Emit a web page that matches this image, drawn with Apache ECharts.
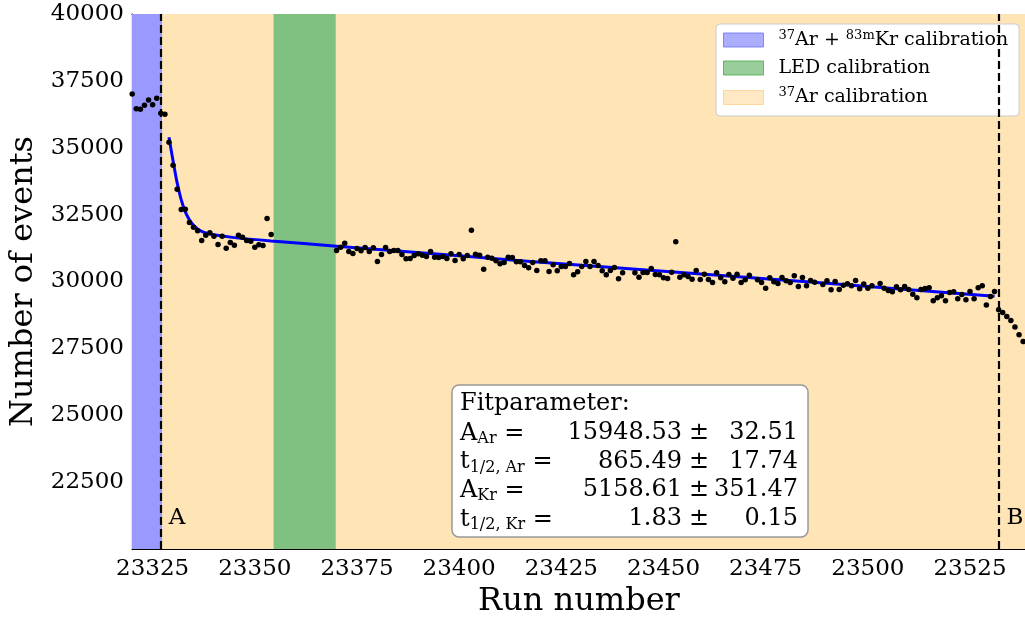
<!DOCTYPE html>
<html>
<head>
<meta charset="utf-8">
<title>Run number vs events</title>
<script src="https://cdn.jsdelivr.net/npm/echarts@6/dist/echarts.min.js"></script>
<style>
  html, body { margin: 0; padding: 0; background: #fff; }
  #chart { width: 1025px; height: 617px; }
</style>
</head>
<body>
<div id="chart"></div>
<script>
// measured events per run
const runNumbers = [
  23320, 23321, 23322, 23323, 23324, 23325, 23326, 23327, 23328, 23329,
  23330, 23331, 23332, 23333, 23334, 23335, 23336, 23337, 23338, 23339,
  23340, 23341, 23342, 23343, 23344, 23345, 23346, 23347, 23348, 23349,
  23350, 23351, 23352, 23353, 23354,
  23370, 23371, 23372, 23373, 23374, 23375, 23376, 23377, 23378, 23379,
  23380, 23381, 23382, 23383, 23384, 23385, 23386, 23387, 23388, 23389,
  23390, 23391, 23392, 23393, 23394, 23395, 23396, 23397, 23398, 23399,
  23400, 23401, 23402, 23403, 23404, 23405, 23406, 23407, 23408, 23409,
  23410, 23411, 23412, 23413, 23414, 23415, 23416, 23417, 23418, 23419,
  23420, 23421, 23422, 23423, 23424, 23425, 23426, 23427, 23428, 23429,
  23430, 23431, 23432, 23433, 23434, 23435, 23436, 23437, 23438, 23439,
  23440, 23443, 23444, 23445, 23446, 23447, 23448, 23449,
  23450, 23451, 23452, 23453, 23454, 23455, 23456, 23457, 23458, 23459,
  23460, 23461, 23462, 23463, 23464, 23465, 23466, 23467, 23468, 23469,
  23470, 23471, 23473, 23474, 23475, 23476, 23477, 23478, 23479,
  23480, 23481, 23482, 23483, 23484, 23485, 23486, 23487, 23489,
  23490, 23491, 23492, 23493, 23494, 23495, 23496, 23497, 23498, 23499,
  23500, 23501, 23503, 23504, 23505, 23506, 23507, 23508, 23509,
  23510, 23511, 23512, 23513, 23514, 23515, 23516, 23517, 23518, 23519,
  23520, 23521, 23522, 23523, 23524, 23525, 23526, 23527, 23528, 23529,
  23530, 23531, 23532, 23533, 23534, 23535, 23536, 23537, 23538
];
const eventCounts = [
  37011, 36462, 36440, 36589, 36787, 36611, 36851, 36290, 36253, 35207,
  34347, 33451, 32689, 32704, 32203, 32031, 31893, 31530, 31732, 31818,
  31695, 31381, 31695, 31247, 31456, 31359, 31732, 31658, 31530, 31508,
  31284, 31370, 31344, 32352, 31755,
  31157, 31284, 31433, 31119, 31045, 31232, 31146, 31269, 31119, 31258,
  30746, 31007, 31269, 31119, 31157, 31157, 31007, 30847, 30858, 30970,
  31034, 30985, 30933, 31119, 30910, 30895, 30933, 30858, 31034, 30783,
  31007, 30847, 30970, 31919, 31022, 30985, 30462, 30910, 30873, 30772,
  30660, 30709, 30910, 30895, 30735, 30735, 30596, 30511, 30709, 30410,
  30772, 30772, 30372, 30623, 30398, 30559, 30559, 30671, 30249, 30361,
  30559, 30746, 30559, 30746, 30596, 30398, 30249, 30410, 30522, 30100,
  30324, 30324, 30163, 30335, 30335, 30484, 30260, 30249,
  30137, 30111, 30350, 31482, 30163, 30249, 30186, 30088, 30410, 30073,
  30275, 30073, 29961, 30324, 30137, 29988, 30260, 30126, 30275, 29961,
  30062, 30238, 30062, 29961, 29752, 30137, 29988, 29924, 30148,
  30025, 29961, 30212, 29812, 30148, 29838, 30036, 29976, 29887,
  30025, 29689, 29999, 29700, 29864, 29913, 29838, 30036, 29726, 29902,
  29752, 29838, 29924, 29752, 29663, 29614, 29801, 29689, 29812,
  29700, 29528, 29390, 29700, 29737, 29763, 29278, 29390, 29464, 29278,
  29588, 29614, 29352, 29513, 29315, 29625, 29352, 29763, 29838, 29117,
  29438, 29625, 28941, 28840, 28691, 28542, 28295, 28007, 27757
];

// fit curve
const fitRuns = [23329, 23330, 23331, 23332, 23333, 23334, 23335, 23336, 23337, 23338,
  23340, 23345, 23354, 23370, 23400, 23430, 23460, 23490, 23531];
const fitValues = [35394, 34508, 33686, 33051, 32603, 32304, 32098, 31968, 31874, 31818,
  31744, 31640, 31515, 31321, 30959, 30604, 30268, 29931, 29446];

// calibration periods and boundaries
const xRange = [23319.95, 23538.7];
const blueSpan = [23319.95, 23327.3];
const greenSpan = [23354.6, 23369.8];
const orangeSpan = [23327.3, 23538.7];
const boundaryRuns = [23327, 23532];
const boundaryNames = ['A', 'B'];

const xTicks = [23325, 23350, 23375, 23400, 23425, 23450, 23475, 23500, 23525];

const fitRows = [
  { label: '{m|A}{s|Ar}{m| =}', value: '15948.53', err: '32.51' },
  { label: '{m|t}{s|1/2, Ar}{m| =}', value: '865.49', err: '17.74' },
  { label: '{m|A}{s|Kr}{m| =}', value: '5158.61', err: '351.47' },
  { label: '{m|t}{s|1/2, Kr}{m| =}', value: '1.83', err: '0.15' }
];

const SERIF = 'DejaVu Serif';
const chart = echarts.init(document.getElementById('chart'));

const legendNames = {
  '37Ar + 83mKr calibration': '{s|37}{n|Ar + }{s|83m}{n|Kr calibration}',
  'LED calibration': '{n|LED calibration}',
  '37Ar calibration': '{s|37}{n|Ar calibration}'
};

const pts = runNumbers.map((r, i) => [r, eventCounts[i]]);
const fit = fitRuns.map((r, i) => [r, fitValues[i]]);

const plain = v => String(v);

const option = {
  animation: false,
  grid: { left: 132, top: 14, width: 894, height: 535, outerBoundsMode: 'none' },
  xAxis: [{
    type: 'value',
    min: xRange[0],
    max: xRange[1],
    name: 'Run number',
    nameLocation: 'middle',
    nameGap: 35,
    nameTextStyle: { fontFamily: SERIF, fontSize: 32, color: '#000' },
    axisLine: { lineStyle: { color: '#000', width: 1.2 } },
    axisTick: { inside: true, length: 5, customValues: xTicks, lineStyle: { color: '#000' } },
    axisLabel: { customValues: xTicks, formatter: plain, fontFamily: SERIF, fontSize: 23, color: '#000', margin: 9 },
    splitLine: { show: false }
  }, {
    type: 'value',
    position: 'top',
    min: xRange[0],
    max: xRange[1],
    axisLine: { lineStyle: { color: '#000', width: 1.2 } },
    axisTick: { inside: true, length: 5, customValues: xTicks, lineStyle: { color: '#000' } },
    axisLabel: { show: false },
    splitLine: { show: false }
  }],
  yAxis: [{
    type: 'value',
    min: 20000,
    max: 40000,
    interval: 2500,
    name: 'Number of events',
    nameLocation: 'middle',
    nameGap: 82,
    nameTextStyle: { fontFamily: SERIF, fontSize: 32, color: '#000' },
    axisLine: { show: true, lineStyle: { color: '#000', width: 1.2 } },
    axisTick: { show: true, inside: true, length: 5, lineStyle: { color: '#000' } },
    axisLabel: { showMinLabel: false, formatter: plain, fontFamily: SERIF, fontSize: 23, color: '#000', margin: 8 },
    splitLine: { show: false }
  }, {
    type: 'value',
    position: 'right',
    min: 20000,
    max: 40000,
    interval: 2500,
    axisLine: { show: true, lineStyle: { color: '#000', width: 1.2 } },
    axisTick: { show: true, inside: true, length: 5, lineStyle: { color: '#000' } },
    axisLabel: { show: false },
    splitLine: { show: false }
  }],
  legend: {
    orient: 'vertical',
    left: 716,
    top: 24,
    padding: [5, 11, 9, 7],
    itemGap: 9,
    itemWidth: 40,
    itemHeight: 14,
    backgroundColor: '#fff',
    borderColor: '#cccccc',
    borderWidth: 1,
    borderRadius: 4,
    selectedMode: false,
    icon: 'rect',
    data: [
      { name: '37Ar + 83mKr calibration', itemStyle: { color: '#9999ff', borderColor: '#6f6ff7', borderWidth: 1 } },
      { name: 'LED calibration', itemStyle: { color: '#80c080', borderColor: '#4da64d', borderWidth: 1 } },
      { name: '37Ar calibration', itemStyle: { color: '#ffe4b5', borderColor: '#ffcf8a', borderWidth: 1 } }
    ],
    formatter: name => legendNames[name],
    textStyle: {
      fontFamily: SERIF,
      color: '#000',
      padding: [0, 0, 0, 10],
      rich: {
        n: { fontFamily: SERIF, fontSize: 19, lineHeight: 22, color: '#000' },
        s: { fontFamily: SERIF, fontSize: 13, lineHeight: 13, verticalAlign: 'top', color: '#000' }
      }
    }
  },
  series: [
    {
      name: '37Ar calibration', type: 'scatter', data: [], z: 1,
      itemStyle: { color: '#ffe4b5' },
      markArea: { silent: true, itemStyle: { color: '#ffe4b5' },
        data: [[{ xAxis: orangeSpan[0] }, { xAxis: orangeSpan[1] }]] }
    },
    {
      name: 'LED calibration', type: 'scatter', data: [], z: 2,
      itemStyle: { color: '#80c080' },
      markArea: { silent: true, itemStyle: { color: '#80c080' },
        data: [[{ xAxis: greenSpan[0] }, { xAxis: greenSpan[1] }]] }
    },
    {
      name: '37Ar + 83mKr calibration', type: 'scatter', data: [], z: 2,
      itemStyle: { color: '#9999ff' },
      markArea: { silent: true, itemStyle: { color: '#9999ff' },
        data: [[{ xAxis: blueSpan[0] }, { xAxis: blueSpan[1] }]] }
    },
    {
      name: 'boundaries', type: 'line', data: [], z: 3,
      markLine: {
        silent: true,
        symbol: 'none',
        label: { show: false },
        lineStyle: { color: '#000', width: 2.2, type: [8, 4] },
        data: boundaryRuns.map(r => ({ xAxis: r }))
      }
    },
    {
      name: 'fit', type: 'line', data: fit, z: 4,
      smooth: 0.3,
      showSymbol: false,
      lineStyle: { color: '#0000ff', width: 3 }
    },
    {
      name: 'data', type: 'scatter', data: pts, z: 5,
      symbolSize: 5.5,
      itemStyle: { color: '#000', opacity: 1 }
    }
  ]
};

chart.setOption(option);

// annotations: boundary letters and fit parameter box
const graphics = [];
boundaryRuns.forEach((r, i) => {
  const p = chart.convertToPixel({ xAxisIndex: 0, yAxisIndex: 0 }, [r, 20000]);
  graphics.push({
    type: 'text', x: p[0] + 8, y: p[1] - 42, z: 10,
    style: { text: boundaryNames[i], fontFamily: SERIF, fontSize: 23, fill: '#000' }
  });
});

const box = { x: 452, y: 385, w: 356, h: 152 };
graphics.push({
  type: 'rect', z: 10,
  shape: { x: box.x, y: box.y, width: box.w, height: box.h, r: 7 },
  style: { fill: '#fff', stroke: '#999', lineWidth: 1.5 }
});
graphics.push({
  type: 'text', z: 11, x: 460, y: 392,
  style: { text: 'Fitparameter:', fontFamily: SERIF, fontSize: 24, fill: '#000' }
});
fitRows.forEach((row, i) => {
  const top = 420 + i * 28.6;
  graphics.push({
    type: 'text', z: 11, x: 460, y: top,
    style: {
      text: row.label, fill: '#000',
      rich: {
        m: { fontFamily: SERIF, fontSize: 24, lineHeight: 27 },
        s: { fontFamily: SERIF, fontSize: 16, lineHeight: 16, verticalAlign: 'bottom' }
      }
    }
  });
  graphics.push({
    type: 'text', z: 11, x: 682, y: top + 1,
    style: { text: row.value, fontFamily: SERIF, fontSize: 24, fill: '#000', align: 'right' }
  });
  graphics.push({
    type: 'text', z: 11, x: 689, y: top + 1,
    style: { text: '±', fontFamily: SERIF, fontSize: 24, fill: '#000' }
  });
  graphics.push({
    type: 'text', z: 11, x: 798, y: top + 1,
    style: { text: row.err, fontFamily: SERIF, fontSize: 24, fill: '#000', align: 'right' }
  });
});

chart.setOption({ graphic: graphics });

window.addEventListener('resize', () => chart.resize());
</script>
</body>
</html>
